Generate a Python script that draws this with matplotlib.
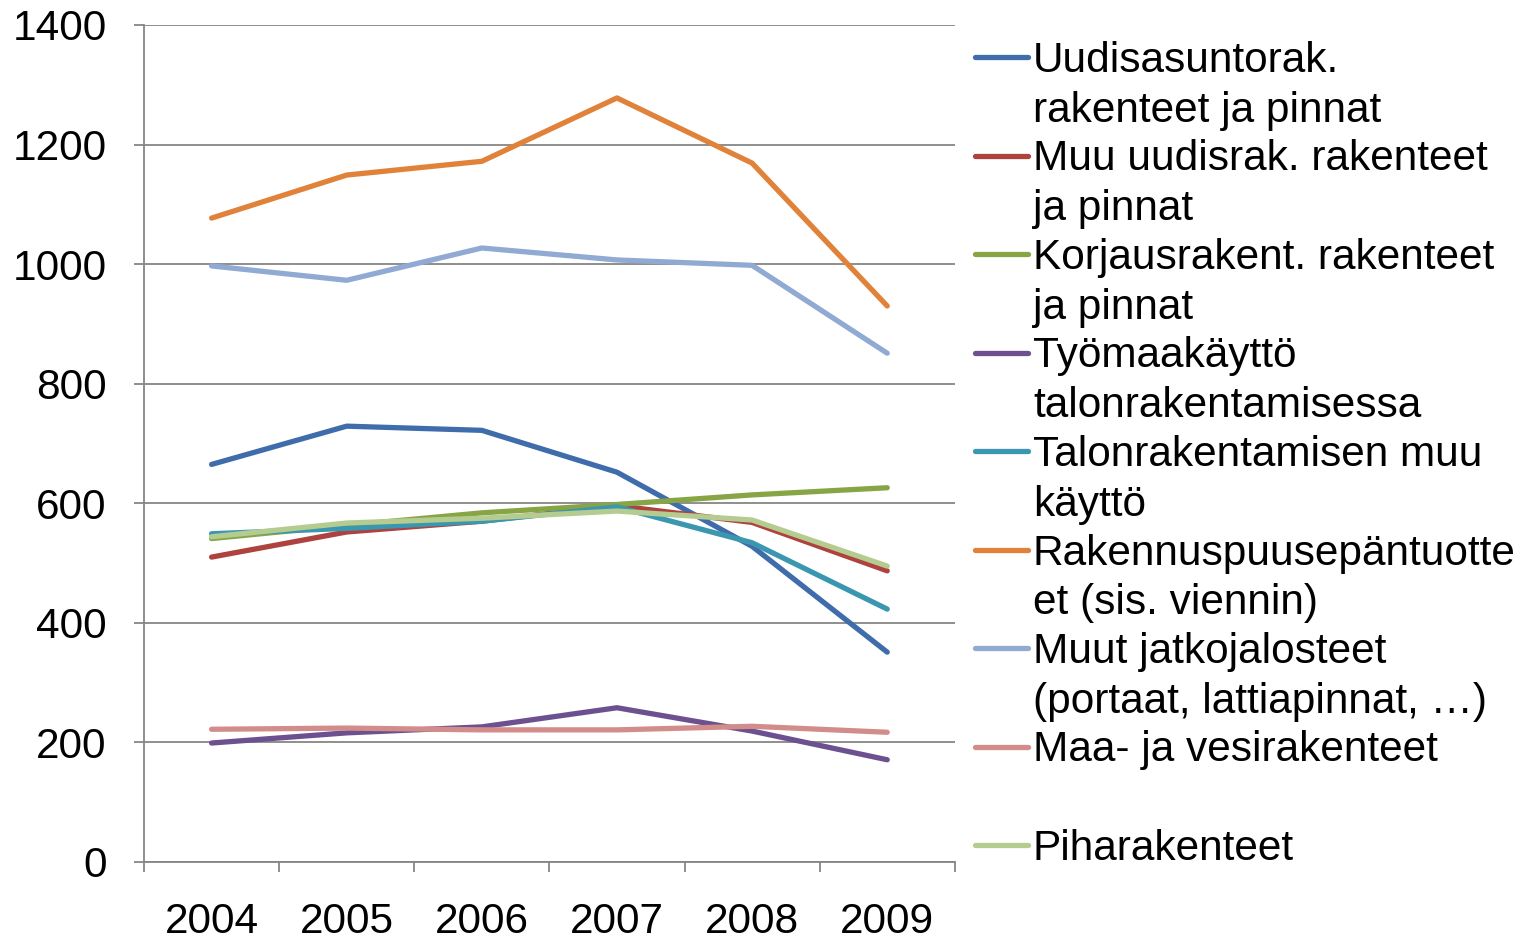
import matplotlib
matplotlib.use('Agg')
import matplotlib.pyplot as plt
from matplotlib.lines import Line2D

plt.rcParams['font.family'] = ['Liberation Sans', 'DejaVu Sans']

# Years on the x axis
years = ['2004', '2005', '2006', '2007', '2008', '2009']

# Series values
uudisasunto = [665, 729, 722, 652, 528, 351]
muu_uudis = [510, 552, 570, 596, 568, 487]
korjaus = [541, 563, 584, 598, 614, 626]
tyomaa = [199, 216, 226, 258, 219, 171]
talon_muu = [549, 558, 570, 594, 534, 423]
rakennuspuu = [1077, 1149, 1172, 1278, 1169, 930]
muut_jatko = [997, 973, 1027, 1007, 998, 851]
maa_vesi = [222, 224, 221, 221, 227, 217]
piha = [544, 567, 575, 587, 572, 495]

labels = ['Uudisasuntorak.\nrakenteet ja pinnat',
          'Muu uudisrak. rakenteet\nja pinnat',
          'Korjausrakent. rakenteet\nja pinnat',
          'Työmaakäyttö\ntalonrakentamisessa',
          'Talonrakentamisen muu\nkäyttö',
          'Rakennuspuusepäntuotte\net (sis. viennin)',
          'Muut jatkojalosteet\n(portaat, lattiapinnat, …)',
          'Maa- ja vesirakenteet',
          'Piharakenteet']
colors = ['#3f6caa', '#ad423f', '#87a545', '#6c5090', '#3a97af',
          '#e0823a', '#90aad3', '#d28c8a', '#b4cc8f']
series = [uudisasunto, muu_uudis, korjaus, tyomaa, talon_muu,
          rakennuspuu, muut_jatko, maa_vesi, piha]

fig = plt.figure(figsize=(15.24, 9.43), dpi=100)
ax = fig.add_axes([0.0945, 0.0859, 0.532, 0.8876])

x = list(range(len(years)))
for vals, col in zip(series, colors):
    ax.plot(x, vals, color=col, linewidth=3.8, solid_capstyle='round',
            solid_joinstyle='round')

ax.set_xlim(-0.5, len(years) - 0.5)
ax.set_ylim(0, 1400)
ax.set_yticks(range(0, 1401, 200))
ax.yaxis.grid(True, color='#868686', linewidth=1.3)
ax.set_axisbelow(True)

# category ticks between the years, labels at centres
ax.set_xticks([i - 0.5 for i in range(len(years) + 1)])
ax.set_xticklabels([])
ax.set_xticks(x, minor=True)
ax.set_xticklabels(years, minor=True)
ax.tick_params(axis='x', which='minor', length=0, pad=29, labelsize=30.5)
ax.tick_params(axis='x', which='major', length=7, width=1.3, color='#868686')
ax.tick_params(axis='y', length=7, width=1.3, color='#868686', pad=20,
               labelsize=30.5)

for s in ['top', 'right']:
    ax.spines[s].set_visible(False)
for s in ['left', 'bottom']:
    ax.spines[s].set_color('#868686')
    ax.spines[s].set_linewidth(1.3)

# legend drawn Excel-style: handle on the first line of each entry
W, H = 1524, 943
step = 98.5
for i, (lab, col) in enumerate(zip(labels, colors)):
    yc = 57 + step * i
    fig.add_artist(Line2D([975 / W, 1028 / W], [1 - yc / H, 1 - yc / H],
                          color=col, linewidth=3.8, solid_capstyle='round'))
    fig.text(1033 / W, 1 - (yc - 16) / H, lab, fontsize=30.5,
             va='top', ha='left', linespacing=1.31)

fig.savefig('out.png', dpi=100)
